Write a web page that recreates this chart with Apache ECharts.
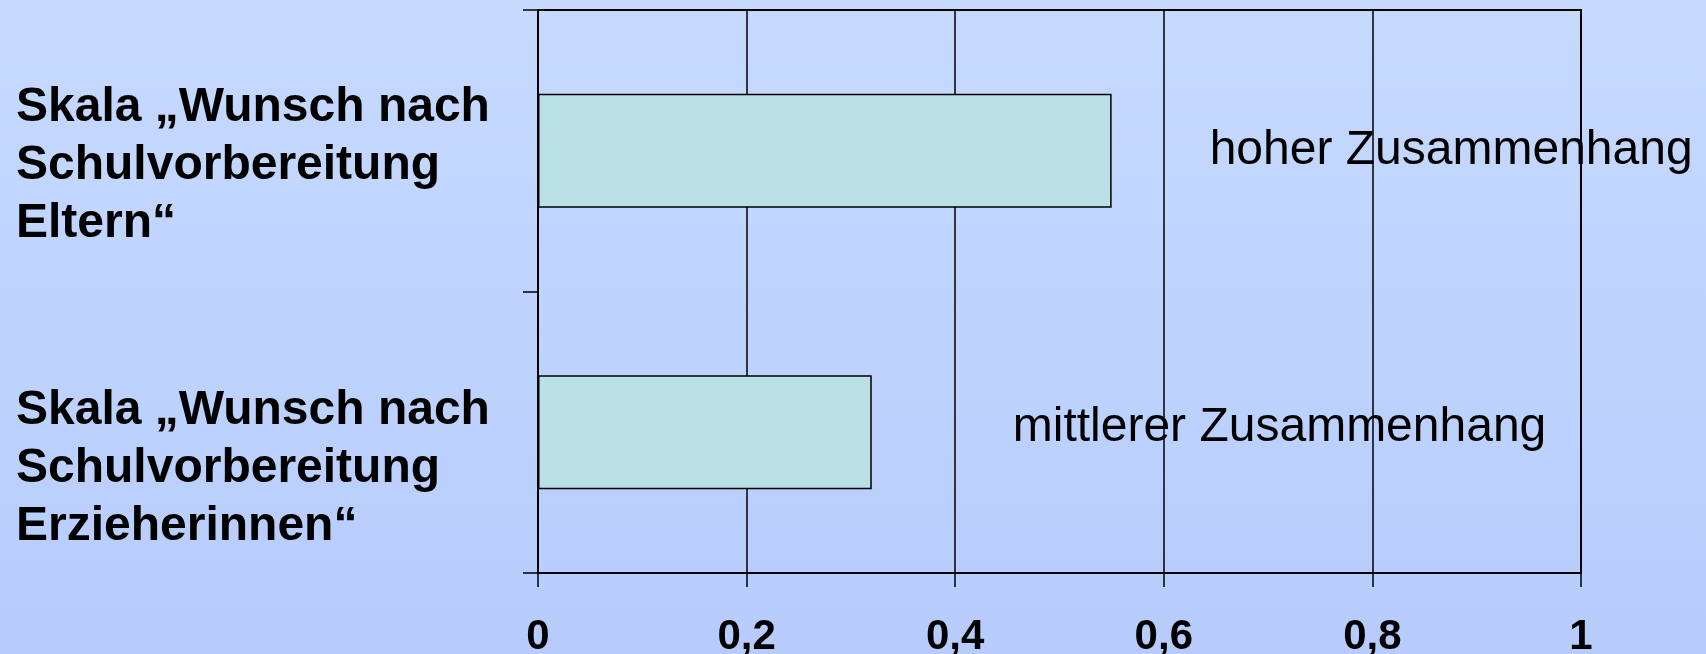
<!DOCTYPE html>
<html>
<head>
<meta charset="utf-8">
<title>Skala Wunsch nach Schulvorbereitung</title>
<script src="https://cdn.jsdelivr.net/npm/echarts@6/dist/echarts.min.js"></script>
<style>
  html, body { margin: 0; padding: 0; }
  #chart { width: 1706px; height: 654px; }
</style>
</head>
<body>
<div id="chart"></div>
<script>
// Scales (rows, top to bottom)
const categories = [
  'Skala „Wunsch nach\nSchulvorbereitung\nEltern“',
  'Skala „Wunsch nach\nSchulvorbereitung\nErzieherinnen“'
];
// Correlation per scale
const barValues = [0.55, 0.32];
// Verbal rating of each correlation
const annotations = ['hoher Zusammenhang', 'mittlerer Zusammenhang'];
// Value axis tick labels (German decimal comma)
const xTickLabels = ['0', '0,2', '0,4', '0,6', '0,8', '1'];

const FONT = '"Liberation Sans", Arial, Helvetica, sans-serif';
const TICK_STEP = 0.2;

// label placement of the verbal ratings relative to each bar end
const annotDistance = [98, 141];
const annotDy = [0, -4];

const chart = echarts.init(document.getElementById('chart'));

chart.setOption({
  backgroundColor: {
    type: 'linear', x: 0, y: 0, x2: 0, y2: 1,
    colorStops: [
      { offset: 0, color: '#C6DAFF' },
      { offset: 1, color: '#B7CCFC' }
    ]
  },
  animation: false,
  grid: {
    left: 538, right: 125, top: 10, bottom: 81,
    show: true,
    borderColor: '#000',
    borderWidth: 2,
    backgroundColor: 'transparent',
    outerBoundsMode: 'none'
  },
  xAxis: {
    type: 'value',
    min: 0, max: 1, interval: TICK_STEP,
    axisLine: { show: true, lineStyle: { color: '#000', width: 2 } },
    axisTick: { show: true, length: 14, lineStyle: { color: '#000', width: 1.5 } },
    splitLine: { show: true, lineStyle: { color: '#000', width: 1.5 } },
    axisLabel: {
      margin: 43,
      color: '#000',
      fontFamily: FONT,
      fontWeight: 'bold',
      fontSize: 42,
      formatter: v => xTickLabels[Math.round(v / TICK_STEP)]
    }
  },
  yAxis: {
    type: 'category',
    data: categories,
    inverse: true,
    axisLine: { show: true, lineStyle: { color: '#000', width: 2 } },
    axisTick: { show: true, length: 15, interval: 0, lineStyle: { color: '#000', width: 1.5 } },
    splitLine: { show: false },
    axisLabel: {
      interval: 0,
      margin: 522,
      align: 'left',
      // a thin spacer line above each label sets how far it sits below its row centre
      formatter: (value, index) => '{sp' + index + '| }\n{t|' + value + '}',
      rich: {
        sp0: { fontSize: 1, lineHeight: 31, height: 31 },
        sp1: { fontSize: 1, lineHeight: 73, height: 73 },
        t: {
          fontFamily: FONT,
          fontWeight: 'bold',
          fontSize: 48,
          lineHeight: 58,
          color: '#000'
        }
      }
    }
  },
  series: [
    {
      // verbal ratings, drawn beneath the grid lines
      type: 'bar',
      z: -1,
      silent: true,
      barWidth: 114,
      barGap: '-100%',
      itemStyle: { color: 'rgba(0,0,0,0)' },
      label: {
        show: true,
        position: 'right',
        color: '#000',
        fontFamily: FONT,
        fontSize: 48
      },
      data: barValues.map((v, i) => ({
        value: v,
        label: {
          formatter: annotations[i],
          distance: annotDistance[i],
          offset: [0, annotDy[i]]
        }
      }))
    },
    {
      type: 'bar',
      z: 2,
      barWidth: 114,
      barGap: '-100%',
      itemStyle: {
        color: '#B9E0E4',
        borderColor: '#000',
        borderWidth: 1.5
      },
      data: barValues
    }
  ]
});
</script>
</body>
</html>
